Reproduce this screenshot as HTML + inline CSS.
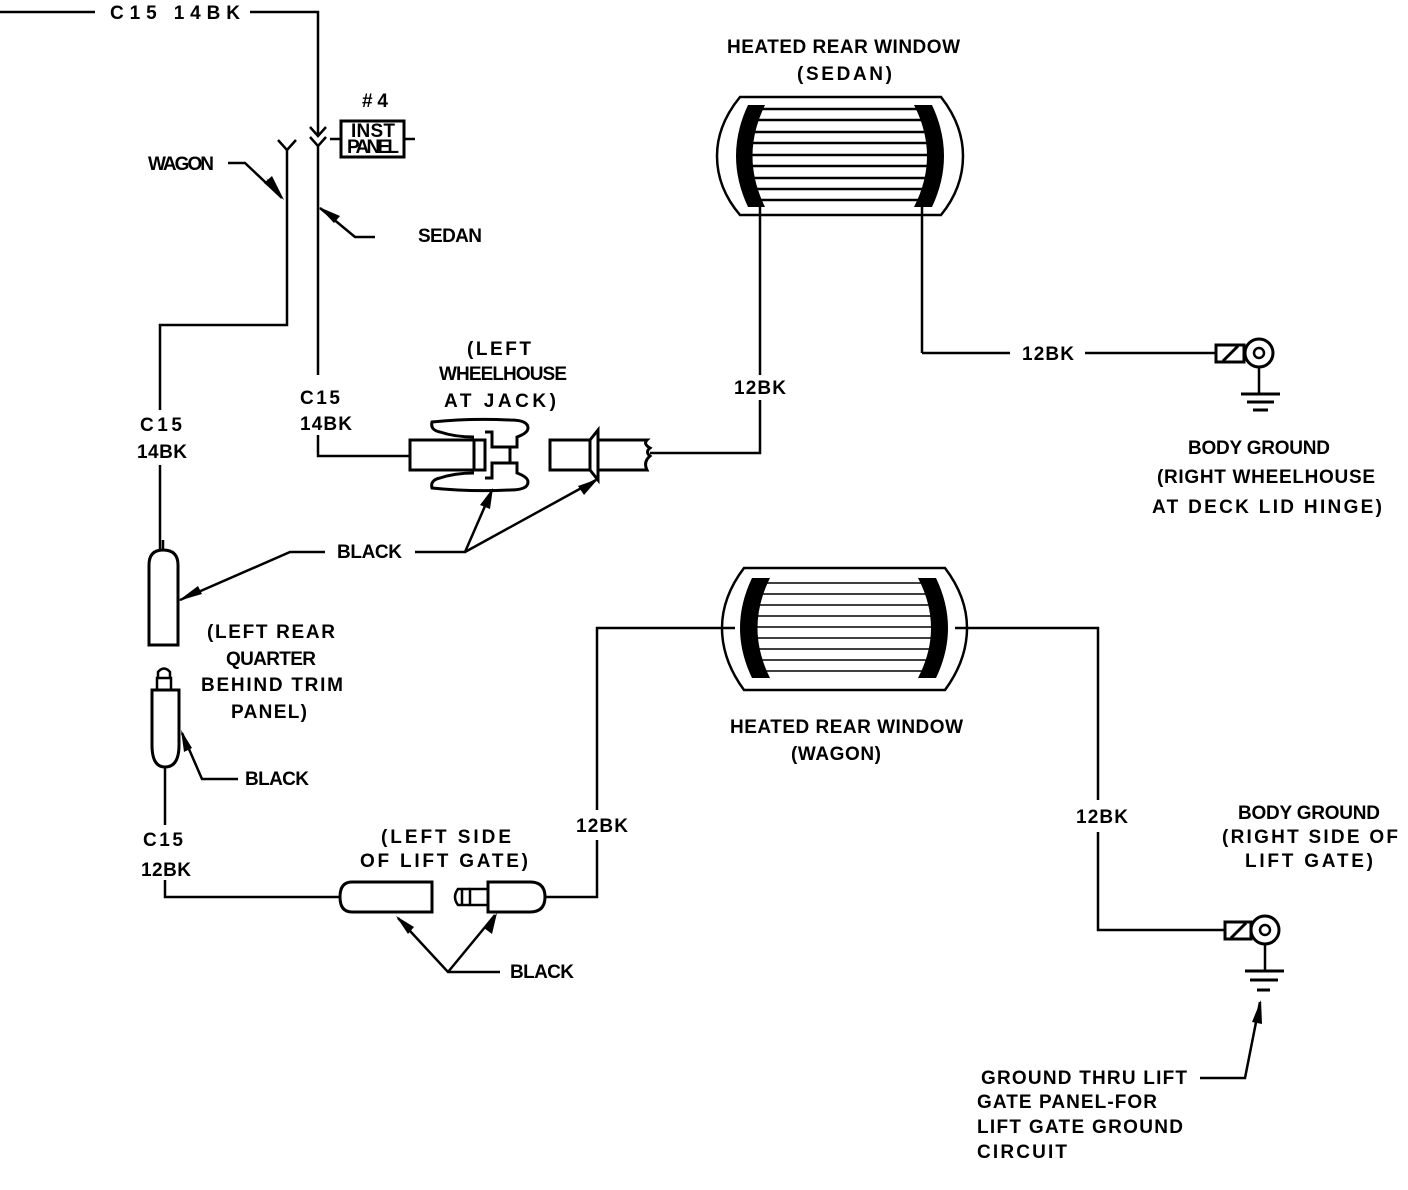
<!DOCTYPE html>
<html><head><meta charset="utf-8"><style>
html,body{margin:0;padding:0;background:#fff;}
svg{display:block}
text{font-family:"Liberation Sans",sans-serif;font-weight:bold;font-size:19px;fill:#000}
</style></head><body>
<svg width="1408" height="1190" viewBox="0 0 1408 1190" xmlns="http://www.w3.org/2000/svg">
<g fill="none" stroke="#000" stroke-width="2.5">
<polyline points="0,12 95,12"/>
<polyline points="250,12 318,12 318,135"/>
<polyline points="310,127 318,136 326,127"/>
<polyline points="310,137 318,146 326,137"/>
<line x1="318" y1="146" x2="318" y2="375"/>
<rect x="341" y="121" width="63" height="36" stroke-width="3"/>
<line x1="330" y1="139" x2="341" y2="139"/><line x1="404" y1="139" x2="415" y2="139"/>
<polyline points="278,140 287,150 296,140"/>
<polyline points="287,150 287,325 160,325 160,410"/>
<line x1="160" y1="465" x2="160" y2="550"/>
<polyline points="318,435 318,456 410,456"/>
<path d="M149,645 V565 Q149,550 163,550 Q178,550 178,565 V645 Z" stroke-width="3"/>
<line x1="163" y1="540" x2="163" y2="550"/>
<path d="M152,690 V745 Q152,767 165,767 Q179,767 179,745 V690 Z" stroke-width="3"/>
<rect x="157" y="678" width="14" height="12" stroke-width="2.5"/>
<path d="M158,678 V672 Q164,665 170,672 V678" stroke-width="2.5"/>
<line x1="165" y1="767" x2="165" y2="825"/>
<polyline points="165,880 165,897 340,897"/>
<path d="M352,882 H432 V912 H352 Q340,912 340,897 Q340,882 352,882 Z" stroke-width="3"/>
<path d="M488,882 H530 Q545,882 545,897 Q545,912 530,912 H488 Z" stroke-width="3"/>
<rect x="470" y="889" width="18" height="16" stroke-width="2.5"/>
<path d="M470,889 H458 Q452,897 458,905 H470" stroke-width="2.5"/>
<line x1="462" y1="889" x2="462" y2="905"/>
<polyline points="545,897 597,897 597,840"/>
<polyline points="597,810 597,628 735,628"/>
<rect x="410" y="440" width="64" height="30" stroke-width="3"/>
<path d="M474,440 H485 V470 H474 M485,432 H492 V447 H510 V463 H492 V478 H485" stroke-width="3"/>
<path d="M492,447 H517 V437 Q528,433 528,428 Q528,420 510,420 Q470,418 432,422 Q430,430 440,432 Q455,437 474,437" stroke-width="3"/>
<path d="M492,463 H517 V473 Q528,477 528,482 Q528,490 510,490 Q470,492 432,488 Q430,480 440,478 Q455,473 474,473" stroke-width="3"/>
<rect x="550" y="440" width="40" height="30" stroke-width="3"/>
<path d="M590,440 L598,430 V480 L590,470" stroke-width="3"/>
<path d="M598,440 H647 Q643,444 650,448 Q645,452 650,456 Q643,462 647,470 H598" stroke-width="3"/>
<polyline points="650,453 760,453 760,400"/>
<line x1="760" y1="375" x2="760" y2="205"/>
<path d="M740,97 H941 Q963,125 963,156 Q963,188 941,215 H740 Q717,188 717,156 Q717,125 740,97 Z"/>
<line x1="922" y1="205" x2="922" y2="353"/>
<polyline points="922,353 1010,353"/>
<line x1="1085" y1="353" x2="1215" y2="353"/>
<rect x="1216" y="345" width="28" height="17" stroke-width="3"/>
<line x1="1223" y1="361" x2="1238" y2="346" stroke-width="3"/>
<circle cx="1259" cy="353" r="14" stroke-width="3"/><circle cx="1259" cy="353" r="5" stroke-width="2.5"/>
<line x1="1259" y1="367" x2="1259" y2="393"/>
<line x1="1241" y1="394" x2="1280" y2="394" stroke-width="3"/>
<line x1="1247" y1="402" x2="1274" y2="402" stroke-width="3"/>
<line x1="1253" y1="410" x2="1268" y2="410" stroke-width="3"/>
<path d="M744,568 H945 Q967,597 967,628 Q967,660 945,690 H744 Q722,660 722,628 Q722,597 744,568 Z"/>
<polyline points="955,628 1098,628 1098,800"/>
<polyline points="1098,832 1098,930 1225,930"/>
<rect x="1225" y="922" width="26" height="17" stroke-width="3"/>
<line x1="1231" y1="938" x2="1246" y2="923" stroke-width="3"/>
<circle cx="1265" cy="930" r="14" stroke-width="3"/><circle cx="1265" cy="930" r="5" stroke-width="2.5"/>
<line x1="1265" y1="944" x2="1265" y2="970"/>
<line x1="1245" y1="971" x2="1284" y2="971" stroke-width="3"/>
<line x1="1250" y1="980" x2="1278" y2="980" stroke-width="3"/>
<line x1="1257" y1="990" x2="1270" y2="990" stroke-width="3"/>
<polyline points="228,163 245,163 282,198"/>
<polyline points="375,237 355,237 320,208"/>
<polyline points="325,552 290,552 180,600"/>
<polyline points="415,552 465,552 492,490"/>
<polyline points="465,552 596,480"/>
<polyline points="238,779 202,779 182,733"/>
<polyline points="500,972 448,972 398,918"/>
<polyline points="448,972 495,915"/>
<polyline points="1200,1078 1245,1078 1260,1002"/>
</g>
<g>
<path d="M748,105 H765 Q740,156 765,207 H748 Q724,156 748,105 Z" fill="#000"/>
<path d="M932,105 H914 Q940,156 914,207 H932 Q956,156 932,105 Z" fill="#000"/>
<g stroke="#000" stroke-width="2.5">
<line x1="762" y1="109" x2="918" y2="109"/><line x1="757" y1="120" x2="924" y2="120"/>
<line x1="753" y1="132" x2="928" y2="132"/><line x1="751" y1="143" x2="930" y2="143"/>
<line x1="750" y1="155" x2="931" y2="155"/><line x1="750" y1="166" x2="931" y2="166"/>
<line x1="751" y1="178" x2="930" y2="178"/><line x1="754" y1="189" x2="927" y2="189"/>
<line x1="758" y1="200" x2="922" y2="200"/>
</g>
<path d="M752,578 H770 Q745,628 770,678 H752 Q728,628 752,578 Z" fill="#000"/>
<path d="M936,578 H918 Q944,628 918,678 H936 Q960,628 936,578 Z" fill="#000"/>
<g stroke="#000" stroke-width="1.5">
<line x1="767" y1="583" x2="922" y2="583"/><line x1="762" y1="594" x2="928" y2="594"/>
<line x1="758" y1="605" x2="932" y2="605"/><line x1="756" y1="616" x2="934" y2="616"/>
<line x1="755" y1="627" x2="935" y2="627"/><line x1="755" y1="638" x2="935" y2="638"/>
<line x1="756" y1="649" x2="934" y2="649"/><line x1="759" y1="660" x2="931" y2="660"/>
<line x1="764" y1="671" x2="926" y2="671"/>
</g>
<g fill="#000">
<polygon points="284,200 266,178 276,186"/><polygon points="284,200 264,183 272,176"/>
<polygon points="319,207 340,216 334,223"/>
<polygon points="178,601 198,586 202,594"/>
<polygon points="493,488 480,505 490,509"/>
<polygon points="598,479 578,486 584,495"/>
<polygon points="181,730 184,752 192,748"/>
<polygon points="396,916 408,934 414,927"/>
<polygon points="497,913 484,928 492,934"/>
<polygon points="1261,1000 1252,1022 1262,1024"/>
</g>
</g>
<text x="110" y="19" textLength="130">C15 14BK</text>
<text x="362" y="107" font-size="16" textLength="26">#4</text>
<text x="351" y="137" font-size="13" textLength="44">INST</text>
<text x="347" y="153" font-size="13" textLength="52">PANEL</text>
<text x="148" y="170" textLength="66">WAGON</text>
<text x="418" y="242" textLength="64">SEDAN</text>
<text x="727" y="53" textLength="233">HEATED REAR WINDOW</text>
<text x="797" y="80" textLength="95">(SEDAN)</text>
<text x="467" y="355" textLength="64">(LEFT</text>
<text x="439" y="380" textLength="128">WHEELHOUSE</text>
<text x="444" y="407" textLength="112">AT JACK)</text>
<text x="300" y="404" textLength="40">C15</text>
<text x="300" y="430" textLength="52">14BK</text>
<text x="140" y="431" textLength="42">C15</text>
<text x="137" y="458" textLength="50">14BK</text>
<text x="734" y="394" textLength="52">12BK</text>
<text x="1022" y="360" textLength="52">12BK</text>
<text x="1188" y="454" textLength="142">BODY GROUND</text>
<text x="1157" y="483" textLength="218">(RIGHT WHEELHOUSE</text>
<text x="1152" y="513" textLength="230">AT DECK LID HINGE)</text>
<text x="337" y="558" textLength="65">BLACK</text>
<text x="207" y="638" textLength="128">(LEFT REAR</text>
<text x="226" y="665" textLength="90">QUARTER</text>
<text x="201" y="691" textLength="142">BEHIND TRIM</text>
<text x="231" y="718" textLength="76">PANEL)</text>
<text x="245" y="785" textLength="64">BLACK</text>
<text x="730" y="733" textLength="233">HEATED REAR WINDOW</text>
<text x="791" y="760" textLength="90">(WAGON)</text>
<text x="143" y="846" textLength="40">C15</text>
<text x="141" y="876" textLength="50">12BK</text>
<text x="381" y="843" textLength="130">(LEFT SIDE</text>
<text x="360" y="867" textLength="168">OF LIFT GATE)</text>
<text x="576" y="832" textLength="52">12BK</text>
<text x="1076" y="823" textLength="52">12BK</text>
<text x="1238" y="819" textLength="142">BODY GROUND</text>
<text x="1222" y="843" textLength="176">(RIGHT SIDE OF</text>
<text x="1245" y="867" textLength="128">LIFT GATE)</text>
<text x="510" y="978" textLength="64">BLACK</text>
<text x="981" y="1084" textLength="206">GROUND THRU LIFT</text>
<text x="977" y="1108" textLength="180">GATE PANEL-FOR</text>
<text x="977" y="1133" textLength="206">LIFT GATE GROUND</text>
<text x="977" y="1158" textLength="90">CIRCUIT</text>
</svg>
</body></html>
